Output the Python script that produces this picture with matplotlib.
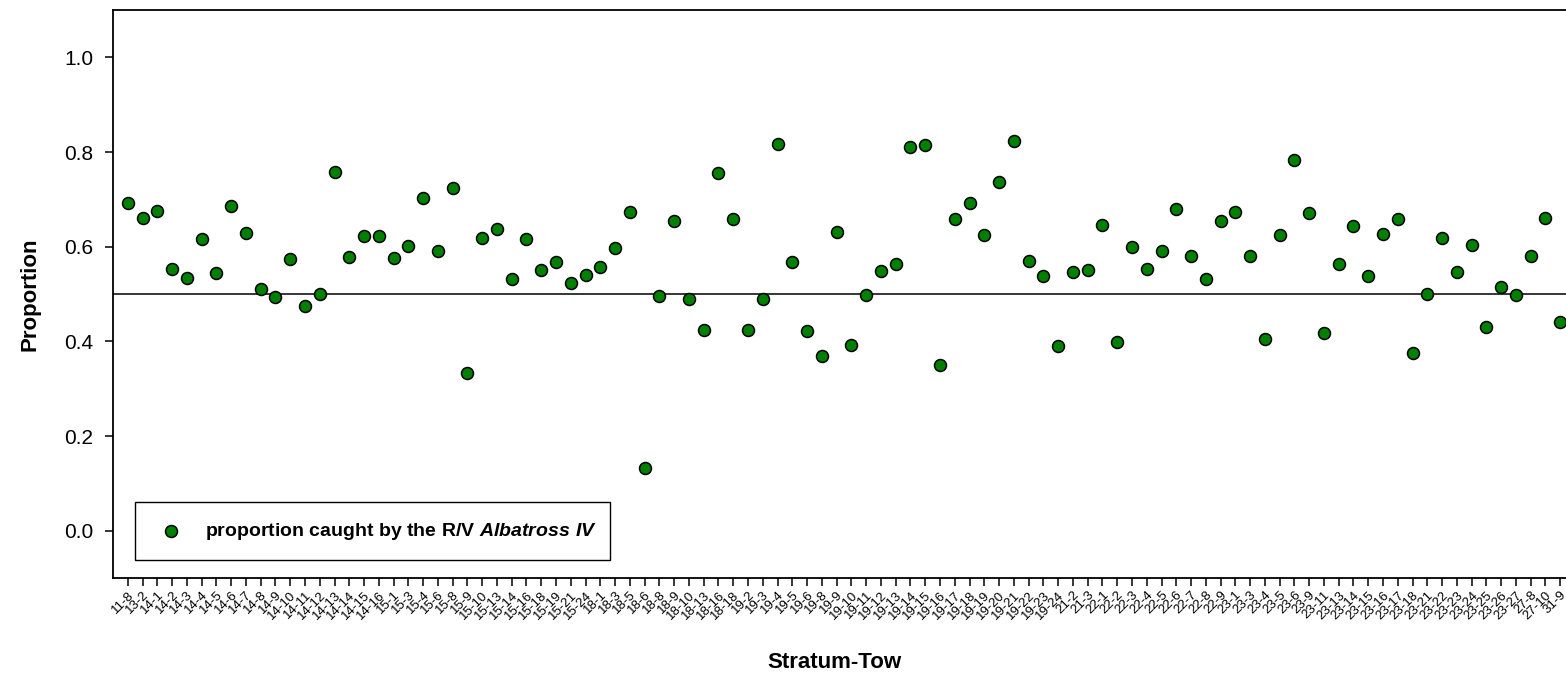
import matplotlib
matplotlib.use("Agg")
import matplotlib.pyplot as plt
import matplotlib.transforms as mtransforms
from matplotlib.patches import Rectangle
from matplotlib.lines import Line2D

plt.rcParams['font.family'] = ['Liberation Sans', 'DejaVu Sans']
plt.rcParams['mathtext.fontset'] = 'custom'
plt.rcParams['mathtext.bfit'] = 'Liberation Sans:italic:bold'
plt.rcParams['mathtext.rm'] = 'Liberation Sans:bold'

stations = [
    "11-8", "13-2", "14-1", "14-2", "14-3", "14-4", "14-5", "14-6", "14-7", "14-8",
    "14-9", "14-10", "14-11", "14-12", "14-13", "14-14", "14-15", "14-16", "15-1", "15-3",
    "15-4", "15-6", "15-8", "15-9", "15-10", "15-13", "15-14", "15-16", "15-18", "15-19",
    "15-21", "15-24", "18-1", "18-3", "18-5", "18-6", "18-8", "18-9", "18-10", "18-13",
    "18-16", "18-18", "19-2", "19-3", "19-4", "19-5", "19-6", "19-8", "19-9", "19-10",
    "19-11", "19-12", "19-13", "19-14", "19-15", "19-16", "19-17", "19-18", "19-19", "19-20",
    "19-21", "19-22", "19-23", "19-24", "21-2", "21-3", "22-1", "22-2", "22-3", "22-4",
    "22-5", "22-6", "22-7", "22-8", "22-9", "23-1", "23-3", "23-4", "23-5", "23-6",
    "23-9", "23-11", "23-13", "23-14", "23-15", "23-16", "23-17", "23-18", "23-21", "23-22",
    "23-23", "23-24", "23-25", "23-26", "23-27", "27-8", "27-10", "31-9",
]

proportion = [
    0.692, 0.661, 0.676, 0.552, 0.533, 0.617, 0.544, 0.685, 0.628, 0.510,
    0.494, 0.573, 0.475, 0.499, 0.758, 0.579, 0.623, 0.623, 0.577, 0.601,
    0.702, 0.591, 0.725, 0.334, 0.618, 0.638, 0.531, 0.616, 0.550, 0.567,
    0.523, 0.541, 0.557, 0.598, 0.673, 0.132, 0.496, 0.654, 0.490, 0.423,
    0.755, 0.659, 0.424, 0.490, 0.817, 0.567, 0.422, 0.370, 0.630, 0.393,
    0.497, 0.549, 0.563, 0.811, 0.814, 0.349, 0.658, 0.692, 0.625, 0.737,
    0.823, 0.570, 0.539, 0.391, 0.546, 0.551, 0.645, 0.398, 0.600, 0.553,
    0.591, 0.679, 0.581, 0.532, 0.655, 0.674, 0.580, 0.405, 0.624, 0.783,
    0.671, 0.417, 0.564, 0.643, 0.538, 0.627, 0.659, 0.376, 0.499, 0.619,
    0.546, 0.604, 0.431, 0.515, 0.497, 0.581, 0.660, 0.440,
]

y_ticks = [0.0, 0.2, 0.4, 0.6, 0.8, 1.0]
reference_level = 0.5

W, H = 1566, 679
fig = plt.figure(figsize=(W / 100, H / 100), dpi=100)
left_px, right_px, top_px, bottom_px = 113, 1575, 10, 578
ax = fig.add_axes([left_px / W, 1 - bottom_px / H,
                   (right_px - left_px) / W, (bottom_px - top_px) / H])

xpos = list(range(1, len(stations) + 1))
ax.axhline(reference_level, color='black', lw=1.1, zorder=1)
ax.plot(xpos, proportion, linestyle='none', marker='o', markersize=8.6,
        markerfacecolor='#008000', markeredgecolor='black', markeredgewidth=1.1,
        zorder=3, clip_on=False)

ax.set_xlim(0, len(stations) + 1)
ax.set_ylim(-0.1, 1.1)
ax.set_yticks(y_ticks)
ax.set_yticklabels([f"{v:.1f}" for v in y_ticks], fontsize=15)
ax.set_xticks(xpos)
ax.set_xticklabels(stations, fontsize=9.5, rotation=45, ha='right', va='top',
                   rotation_mode='anchor')
shift = mtransforms.ScaledTranslation(4 / 100, 0, fig.dpi_scale_trans)
for lbl in ax.get_xticklabels():
    lbl.set_transform(lbl.get_transform() + shift)
ax.tick_params(axis='both', direction='out', length=6, width=1.1, color='black')
ax.tick_params(axis='y', pad=8)
ax.tick_params(axis='x', pad=2)
ax.tick_params(top=False, right=False)
for s in ax.spines.values():
    s.set_linewidth(1.3)

fig.text(30 / W, 1 - 294 / H, "Proportion", rotation=90, fontsize=16,
         fontweight='bold', ha='center', va='center')
fig.text(834 / W, 1 - 662 / H, "Stratum-Tow", fontsize=16,
         fontweight='bold', ha='center', va='center')

# legend box drawn in figure pixel space
box = Rectangle((135 / W, 1 - 560 / H), (610 - 135) / W, (560 - 502) / H,
                transform=fig.transFigure, facecolor='white', edgecolor='black',
                linewidth=1.0, zorder=5)
fig.add_artist(box)
fig.add_artist(Line2D([171 / W], [1 - 531 / H], transform=fig.transFigure,
                      linestyle='none', marker='o', markersize=8.6,
                      markerfacecolor='#008000', markeredgecolor='black',
                      markeredgewidth=1.1, zorder=6))
fig.text(205 / W, 1 - 531 / H,
         r"proportion caught by the R/V $\mathbfit{Albatross\ IV}$",
         fontsize=14, fontweight='bold', ha='left', va='center', zorder=6)

fig.savefig("out.png", dpi=100)
